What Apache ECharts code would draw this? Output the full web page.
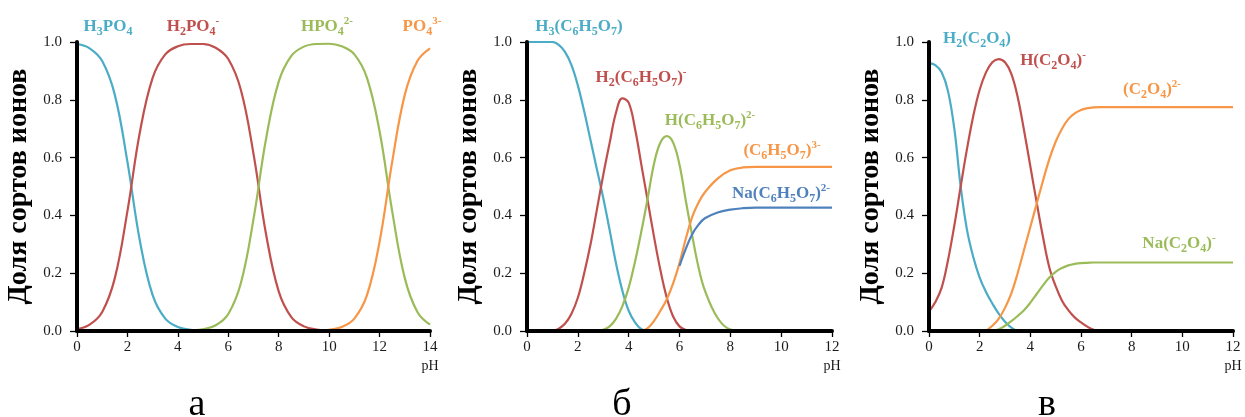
<!DOCTYPE html>
<html><head><meta charset="utf-8">
<script src="https://cdn.jsdelivr.net/npm/echarts@6/dist/echarts.min.js"></script>
<style>html,body{margin:0;padding:0;background:#fff}#c{width:1245px;height:417px}</style>
</head><body><div id="c"></div>
<script>
// ---- data: panel а (phosphoric acid) ----
const phA = [0,0.5,1,1.5,2,2.5,3,3.5,4,4.5,5,5.5,6,6.5,7,7.5,8,8.5,9,9.5,10,10.5,11,11.5,12,12.5,13,13.5,14];
const aH3PO4 = [0.993,0.978,0.934,0.817,0.585,0.309,0.124,0.043,0.014,0.004,0,null,null,null,null,null,null,null,null,null,null,null,null,null,null,null,null,null,null];
const aH2PO4 = [0.007,0.022,0.066,0.183,0.415,0.691,0.876,0.957,0.985,0.993,0.993,0.980,0.941,0.834,0.613,0.334,0.137,0.048,0.016,0.005,0.002,0,null,null,null,null,null,null,null];
const aHPO4 = [null,null,null,null,null,null,null,0,0.001,0.002,0.006,0.020,0.059,0.166,0.387,0.666,0.863,0.952,0.984,0.993,0.994,0.985,0.957,0.876,0.691,0.415,0.183,0.066,0.022];
const aPO4 = [null,null,null,null,null,null,null,null,null,null,null,null,null,null,null,null,null,null,null,0,0.004,0.014,0.043,0.124,0.309,0.585,0.817,0.934,0.978];

// ---- data: panels б and в share a pH grid ----
const phB = [0,0.25,0.5,0.75,1,1.25,1.5,1.75,2,2.25,2.5,2.75,3,3.25,3.5,3.75,4,4.25,4.5,4.75,5,5.25,5.5,5.75,6,6.25,6.5,6.75,7,7.5,8,8.5,9,9.5,10,10.5,11,11.5,12];
// panel б (citric acid)
const bH3Cit = [1,1,1,1,1,0.99,0.965,0.92,0.85,0.76,0.66,0.56,0.46,0.35,0.235,0.14,0.07,0.03,0.006,0,null,null,null,null,null,null,null,null,null,null,null,null,null,null,null,null,null,null,null];
const bH2Cit = [null,null,null,null,0,0.008,0.026,0.06,0.115,0.2,0.3,0.42,0.54,0.65,0.755,0.805,0.79,0.7,0.575,0.45,0.325,0.21,0.115,0.05,0.016,0.003,0,null,null,null,null,null,null,null,null,null,null,null,null];
const bHCit = [null,null,null,null,null,null,null,null,null,null,null,0,0.004,0.016,0.042,0.085,0.15,0.24,0.345,0.46,0.58,0.652,0.674,0.652,0.575,0.45,0.33,0.22,0.14,0.045,0.005,0,null,null,null,null,null,null,null];
const bCit = [null,null,null,null,null,null,null,null,null,null,null,null,null,null,null,null,null,null,0,0.01,0.035,0.07,0.11,0.165,0.235,0.32,0.395,0.445,0.48,0.527,0.556,0.566,0.568,0.568,0.568,0.568,0.568,0.568,0.568];
const bNaCit = [null,null,null,null,null,null,null,null,null,null,null,null,null,null,null,null,null,null,null,null,null,null,null,null,0.225,0.285,0.335,0.368,0.39,0.41,0.42,0.425,0.427,0.427,0.427,0.427,0.427,0.427,0.427];
// panel в (oxalic acid)
const cH2Ox = [0.927,0.92,0.895,0.83,0.7,0.5,0.35,0.255,0.185,0.135,0.095,0.06,0.032,0.012,0,null,null,null,null,null,null,null,null,null,null,null,null,null,null,null,null,null,null,null,null,null,null,null,null];
const cHOx = [0.067,0.1,0.15,0.245,0.365,0.5,0.63,0.745,0.835,0.895,0.93,0.941,0.93,0.89,0.81,0.695,0.57,0.445,0.325,0.22,0.155,0.105,0.072,0.047,0.03,0.015,0.004,0,null,null,null,null,null,null,null,null,null,null,null];
const cOx = [null,null,null,null,null,null,null,null,null,0,0.018,0.042,0.08,0.13,0.2,0.28,0.36,0.44,0.52,0.595,0.655,0.7,0.733,0.753,0.765,0.771,0.774,0.775,0.775,0.775,0.775,0.775,0.775,0.775,0.775,0.775,0.775,0.775,0.775];
const cNaOx = [null,null,null,null,null,null,null,null,null,null,0,0.006,0.018,0.034,0.052,0.072,0.098,0.128,0.158,0.185,0.205,0.218,0.227,0.232,0.235,0.236,0.237,0.237,0.237,0.237,0.237,0.237,0.237,0.237,0.237,0.237,0.237,0.237,0.237];

const yTicks = ['0.0','0.2','0.4','0.6','0.8','1.0'];
const panelLetters = ['а','б','в'];
const yTitle = 'Доля сортов ионов';
const xTitle = 'pH';

const BLUE='#4BACC6', RED='#C0504D', GREEN='#9BBB59', ORANGE='#F79646', NAVY='#4F81BD';
const SERIF = '"Liberation Serif","Times New Roman",serif';

const chart = echarts.init(document.getElementById('c'), null, {renderer:'canvas'});

const grids = [
  {left:77, top:42, width:353, height:289},
  {left:527, top:42, width:305, height:289},
  {left:929, top:42, width:304, height:289}
];
const xMax = [14,12,12];

function xAx(i){
  return {type:'value', gridIndex:i, min:0, max:xMax[i], interval:2, z:5,
    axisLine:{show:true, onZero:false, lineStyle:{color:'#000', width:4}},
    axisTick:{show:true, length:6, lineStyle:{color:'#000', width:1.3}},
    axisLabel:{color:'#1a1a1a', fontFamily:SERIF, fontSize:15, margin:9},
    splitLine:{show:false},
    name:xTitle, nameLocation:'end', nameGap:0,
    nameTextStyle:{color:'#1a1a1a', fontFamily:SERIF, fontSize:14, align:'center', verticalAlign:'top', padding:[28,0,0,0]}
  };
}
function yAx(i){
  return {type:'value', gridIndex:i, min:0, max:1, interval:0.2, z:5,
    axisLine:{show:true, onZero:false, lineStyle:{color:'#000', width:4}},
    axisTick:{show:true, length:7, lineStyle:{color:'#000', width:1.3}},
    axisLabel:{color:'#1a1a1a', fontFamily:SERIF, fontSize:15, margin:15, formatter:(v)=>yTicks[Math.round(v*5)]},
    splitLine:{show:false},
    name:yTitle, nameLocation:'middle', nameGap:44,
    nameTextStyle:{color:'#000', fontFamily:SERIF, fontSize:28, fontWeight:'bold'}
  };
}
function ser(i, xs, ys, color){
  const data = xs.map((x,k)=>[x, ys[k]]).filter(p=>p[1]!==null);
  return {type:'line', xAxisIndex:i, yAxisIndex:i, data, smooth:0.4, showSymbol:false, symbol:'none',
    lineStyle:{color, width:2.2}, itemStyle:{color}, z:2, silent:true};
}
function lab(text, color, x, y){
  const base = {fill:color, fontFamily:SERIF, fontWeight:'bold'};
  return {type:'text', x, y, z:10, silent:true, style:{
    text, align:'center', verticalAlign:'middle', fill:color, fontFamily:SERIF, fontWeight:'bold', fontSize:17,
    rich:{
      m:Object.assign({fontSize:17, lineHeight:22, verticalAlign:'middle'}, base),
      s:Object.assign({fontSize:12, lineHeight:12, verticalAlign:'bottom'}, base),
      p:Object.assign({fontSize:11, lineHeight:18, verticalAlign:'top'}, base)
    }}};
}
const letterX = [197, 622, 1047];

chart.setOption({
  animation:false,
  backgroundColor:'#fff',
  grid:grids,
  xAxis:[xAx(0), xAx(1), xAx(2)],
  yAxis:[yAx(0), yAx(1), yAx(2)],
  series:[
    ser(0, phA, aH3PO4, BLUE), ser(0, phA, aH2PO4, RED), ser(0, phA, aHPO4, GREEN), ser(0, phA, aPO4, ORANGE),
    ser(1, phB, bH3Cit, BLUE), ser(1, phB, bH2Cit, RED), ser(1, phB, bHCit, GREEN), ser(1, phB, bCit, ORANGE), ser(1, phB, bNaCit, NAVY),
    ser(2, phB, cH2Ox, BLUE), ser(2, phB, cHOx, RED), ser(2, phB, cOx, ORANGE), ser(2, phB, cNaOx, GREEN)
  ],
  graphic:[
    lab('{m|H}{s|3}{m|PO}{s|4}', BLUE, 108, 27),
    lab('{m|H}{s|2}{m|PO}{s|4}{p|-}', RED, 193, 27),
    lab('{m|HPO}{s|4}{p|2-}', GREEN, 327, 27),
    lab('{m|PO}{s|4}{p|3-}', ORANGE, 422, 27),
    lab('{m|H}{s|3}{m|(C}{s|6}{m|H}{s|5}{m|O}{s|7}{m|)}', BLUE, 579, 27),
    lab('{m|H}{s|2}{m|(C}{s|6}{m|H}{s|5}{m|O}{s|7}{m|)}{p|-}', RED, 641, 78),
    lab('{m|H(C}{s|6}{m|H}{s|5}{m|O}{s|7}{m|)}{p|2-}', GREEN, 710, 121),
    lab('{m|(C}{s|6}{m|H}{s|5}{m|O}{s|7}{m|)}{p|3-}', ORANGE, 782, 151),
    lab('{m|Na(C}{s|6}{m|H}{s|5}{m|O}{s|7}{m|)}{p|2-}', NAVY, 781, 194),
    lab('{m|H}{s|2}{m|(C}{s|2}{m|O}{s|4}{m|)}', BLUE, 977, 39),
    lab('{m|H(C}{s|2}{m|O}{s|4}{m|)}{p|-}', RED, 1053, 61),
    lab('{m|(C}{s|2}{m|O}{s|4}{m|)}{p|2-}', ORANGE, 1152, 90),
    lab('{m|Na(C}{s|2}{m|O}{s|4}{m|)}{p|-}', GREEN, 1179, 244)
  ].concat(panelLetters.map((t,i)=>({type:'text', x:letterX[i], y:405, silent:true,
    style:{text:t, align:'center', verticalAlign:'middle', fill:'#000', fontFamily:SERIF, fontSize:38}})))
});
</script></body></html>
